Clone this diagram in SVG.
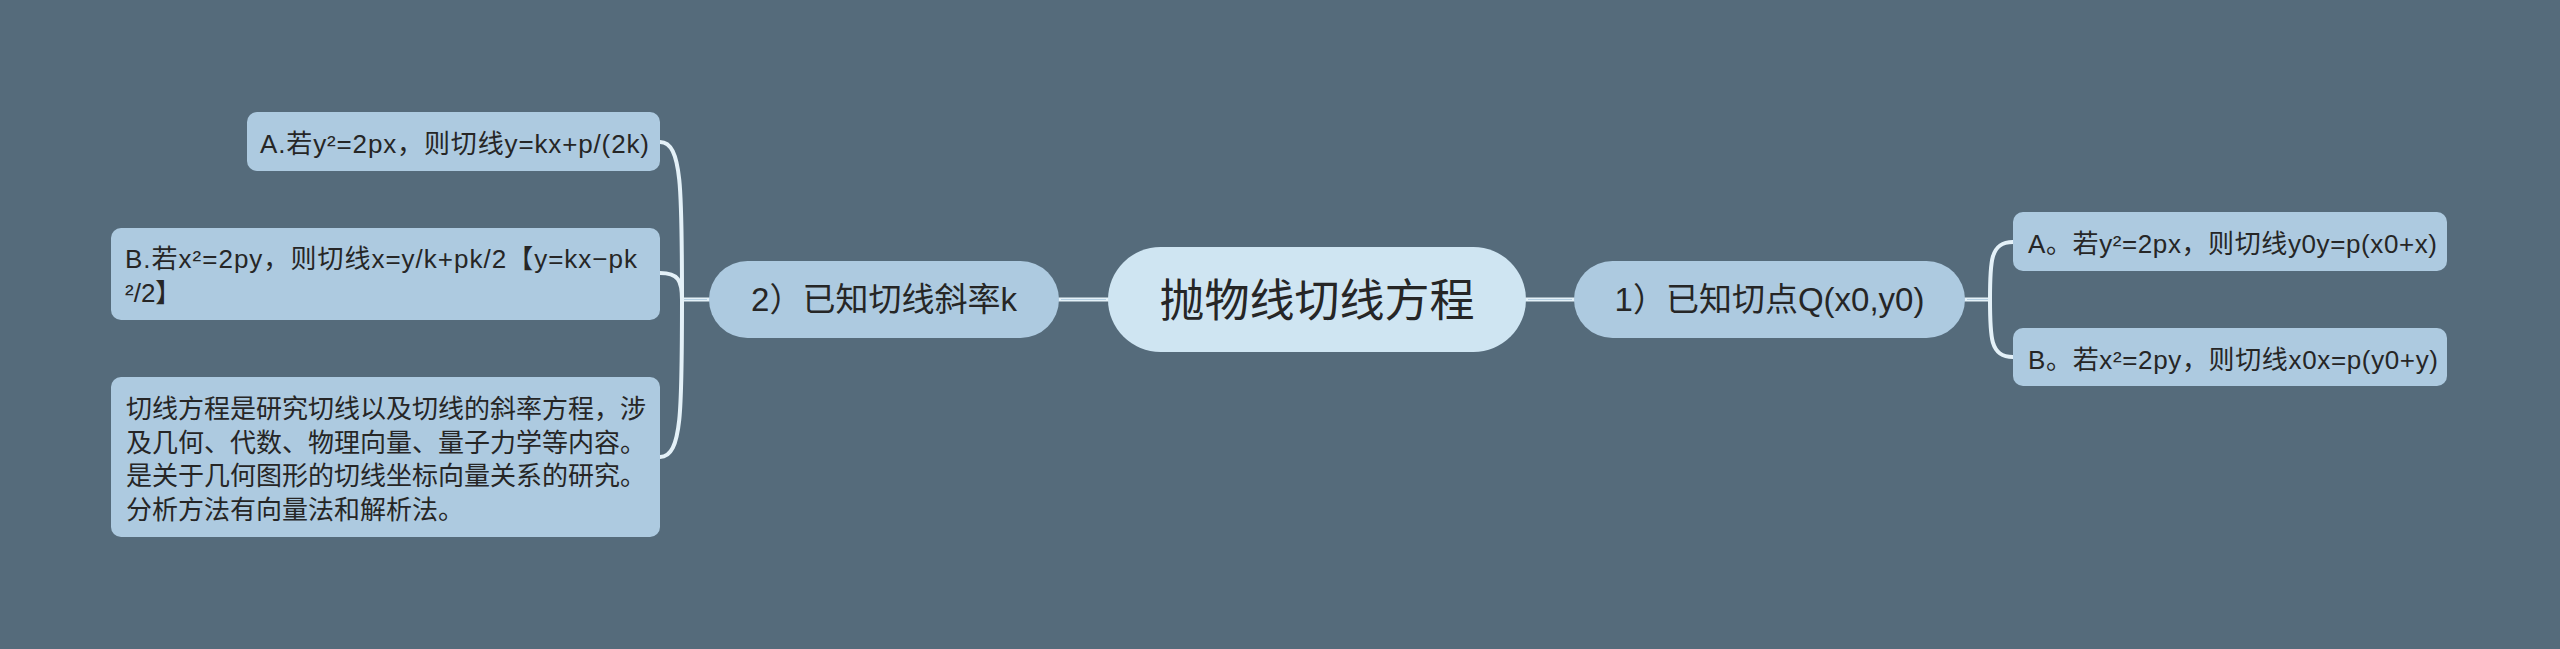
<svg xmlns="http://www.w3.org/2000/svg" width="2560" height="649" viewBox="0 0 2560 649">
<style>
.bg{fill:#556b7b}
.leaf{fill:#adcae0}
.sub{fill:#adcae0}
.root{fill:#cfe5f2}
text{font-family:"Liberation Sans","Noto Sans CJK SC",sans-serif;fill:#262626}
.t-leaf{font-size:26px}
.t-sub{font-size:33px;text-anchor:middle}
.t-root{font-size:45px;text-anchor:middle;font-family:"Noto Sans CJK SC",sans-serif}
.c-out{fill:none;stroke:#e4f1f8;stroke-width:4;stroke-linecap:round}
.c-in{fill:none;stroke:#b4cfe2;stroke-width:1.2}
</style>
<rect class="bg" x="0" y="0" width="2560" height="649"/>
<g id="connectors">
  <path class="c-out" d="M1108,299.5 L1059,299.5 M709,299.5 L682,299.5 M1526,299.5 L1574,299.5 M1965,299.5 L1990,299.5"/>
  <path class="c-in" d="M1106,299.5 L1061,299.5 M707,299.5 L684,299.5 M1528,299.5 L1572,299.5 M1967,299.5 L1988,299.5"/>
  <path class="c-out" d="M682,299.5 C682,190 682,142 660,142"/>
  <path class="c-out" d="M682,299.5 C682,280 678,273 660,273"/>
  <path class="c-out" d="M682,299.5 C682,410 682,457 660,457"/>
  <path class="c-out" d="M1990,299.5 C1990,262 1990,242 2013,242"/>
  <path class="c-out" d="M1990,299.5 C1990,337 1990,357 2013,357"/>
</g>
<g id="root">
  <rect class="root" x="1108" y="247" width="418" height="105" rx="52.5"/>
  <text class="t-root" x="1317" y="317">抛物线切线方程</text>
</g>
<g id="sub-left">
  <rect class="sub" x="709" y="261" width="350" height="77" rx="38.5"/>
  <text class="t-sub" x="884" y="311">2）已知切线斜率k</text>
</g>
<g id="sub-right">
  <rect class="sub" x="1574" y="261" width="391" height="77" rx="38.5"/>
  <text class="t-sub" x="1769.5" y="311">1）已知切点Q(x0,y0)</text>
</g>
<g id="left-a">
  <rect class="leaf" x="247" y="112" width="413" height="59" rx="10"/>
  <text class="t-leaf" x="260" y="153" textLength="389" lengthAdjust="spacing">A.若y²=2px，则切线y=kx+p/(2k)</text>
</g>
<g id="left-b">
  <rect class="leaf" x="111" y="228" width="549" height="92" rx="10"/>
  <text class="t-leaf" x="125" y="268" textLength="512" lengthAdjust="spacing">B.若x²=2py，则切线x=y/k+pk/2【y=kx−pk</text>
  <text class="t-leaf" x="125" y="301.5">²/2】</text>
</g>
<g id="left-c">
  <rect class="leaf" x="111" y="377" width="549" height="160" rx="10"/>
  <text class="t-leaf" x="126" y="418">切线方程是研究切线以及切线的斜率方程，涉</text>
  <text class="t-leaf" x="126" y="451.5">及几何、代数、物理向量、量子力学等内容。</text>
  <text class="t-leaf" x="126" y="485">是关于几何图形的切线坐标向量关系的研究。</text>
  <text class="t-leaf" x="126" y="518.5">分析方法有向量法和解析法。</text>
</g>
<g id="right-a">
  <rect class="leaf" x="2013" y="212" width="434" height="59" rx="10"/>
  <text class="t-leaf" x="2028" y="253" textLength="409" lengthAdjust="spacing">A。若y²=2px，则切线y0y=p(x0+x)</text>
</g>
<g id="right-b">
  <rect class="leaf" x="2013" y="328" width="434" height="58" rx="10"/>
  <text class="t-leaf" x="2028" y="368.5" textLength="410" lengthAdjust="spacing">B。若x²=2py，则切线x0x=p(y0+y)</text>
</g>
</svg>
